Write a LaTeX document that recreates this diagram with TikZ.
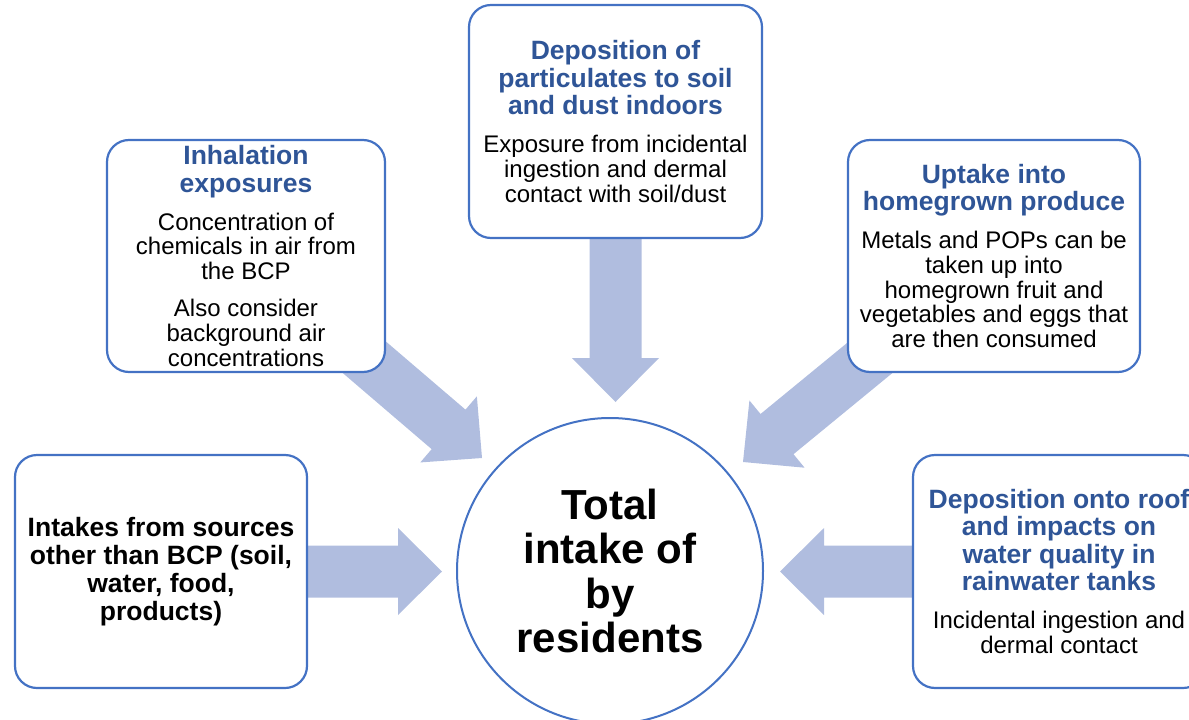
\documentclass[tikz,border=0pt]{standalone}
\usepackage{fontspec}
\setmainfont{Liberation Sans}
\usetikzlibrary{calc}
\pgfdeclarelayer{background}
\pgfsetlayers{background,main}
\definecolor{edgeblue}{RGB}{68,114,196}
\definecolor{titleblue}{RGB}{47,85,151}
\definecolor{arrowfill}{RGB}{176,189,223}
\newcommand\ttlfont{\fontsize{26.5}{27.5}\selectfont\bfseries\color{titleblue}}
\newcommand\bodyfont{\fontsize{24}{24.8}\selectfont}
\newcommand\cardtext[2]{\begin{minipage}{272pt}\centering\setlength\parskip{0pt}{\ttlfont #1\par}\vspace{13pt}{\bodyfont #2\par}\end{minipage}}
\newcommand\blockarrow[2]{%
  \coordinate (ba-h) at ($(#2)!44pt!(#1)$);
  \fill[arrowfill] ($(#1)!26pt!90:(#2)$) -- ($(ba-h)!26pt!90:(#2)$) -- ($(ba-h)!43.5pt!90:(#2)$) -- (#2)
    -- ($(ba-h)!43.5pt!-90:(#2)$) -- ($(ba-h)!26pt!-90:(#2)$) -- ($(#1)!26pt!-90:(#2)$) -- cycle;}
\begin{document}
\begin{tikzpicture}[x=1pt,y=1pt,
  card/.style={draw=edgeblue, line width=2.2pt, rounded corners=22pt, fill=white, inner sep=0pt, align=center},
  hub/.style={circle, draw=edgeblue, line width=2pt, fill=white, inner sep=0pt, minimum size=306pt, align=center, font=\fontsize{42}{44.5}\selectfont\bfseries}]
\useasboundingbox (0,0) rectangle (1189,-720);
\clip (0,0) rectangle (1189,-720);
% centre
\node[hub] (total) at (610,-571) {Total\\intake of\\by\\residents};
% cards
\node[card, minimum width=292pt, minimum height=233pt, font=\fontsize{26.5}{28}\selectfont\bfseries] (other) at (161,-571.5)
  {Intakes from sources\\other than BCP (soil,\\water, food,\\products)};
\node[card, minimum width=278pt, minimum height=232pt] (inhal) at (246,-256)
  {\cardtext{Inhalation\\exposures}{Concentration of\\chemicals in air from\\the BCP\\[12pt]Also consider\\background air\\concentrations}};
\node[card, minimum width=293pt, minimum height=233pt] (dep) at (615.5,-121.5)
  {\cardtext{Deposition of\\particulates to soil\\and dust indoors}{Exposure from incidental\\ingestion and dermal\\contact with soil/dust}};
\node[card, minimum width=292pt, minimum height=232pt] (uptake) at (994,-256)
  {\cardtext{Uptake into\\homegrown produce}{Metals and POPs can be\\taken up into\\homegrown fruit and\\vegetables and eggs that\\are then consumed}};
\node[card, minimum width=292pt, minimum height=233pt] (roof) at (1059,-571.5)
  {\cardtext{Deposition onto roof\\and impacts on\\water quality in\\rainwater tanks}{Incidental ingestion and\\dermal contact}};
% arrow tips
\coordinate (tipL) at (442,-571.5);
\coordinate (tipUL) at (482,-458);
\coordinate (tipT) at (615.5,-402);
\coordinate (tipUR) at (743,-462);
\coordinate (tipR) at (780,-571.5);
\begin{pgfonlayer}{background}
  \blockarrow{other.center}{tipL}
  \blockarrow{inhal.center}{tipUL}
  \blockarrow{dep.center}{tipT}
  \blockarrow{uptake.center}{tipUR}
  \blockarrow{roof.center}{tipR}
\end{pgfonlayer}
\end{tikzpicture}
\end{document}
